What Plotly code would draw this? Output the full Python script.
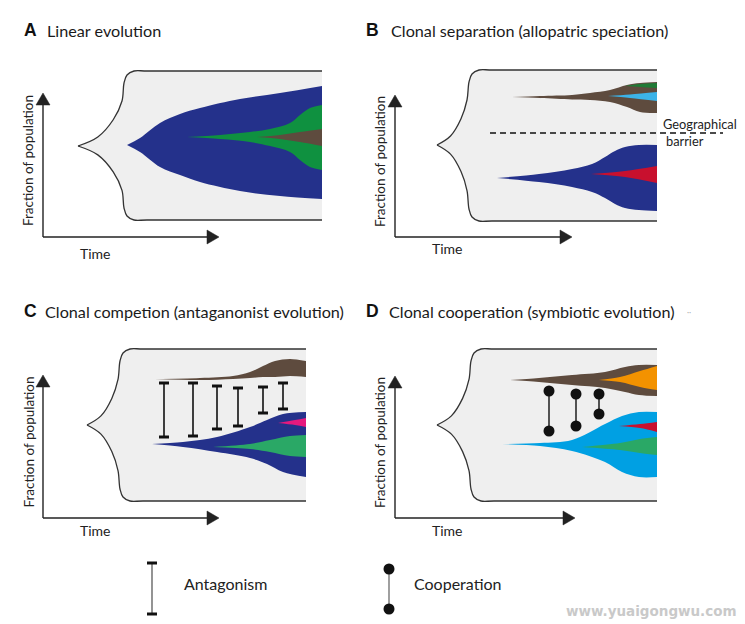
import plotly.graph_objects as go

W, H = 745, 624
PAGE_MARGIN = 8  # default body margin of the written html page
FONT = "Lato"
BOLD = "Liberation Sans"

# ---------------- colours ----------------
GREY = "#efefef"
NAVY = "#24318b"
GREEN_DK = "#0f9140"
GREEN = "#2aa866"
BROWN = "#5e4b3e"
LBLUE_B = "#3cb3e8"
LBLUE = "#00a0e3"
RED = "#c8102e"
PINK = "#e5197e"
ORANGE = "#f39200"
INK = "#222222"

# ---------------- panel frames: (tip_x, tip_y, vertical_x, top, bottom, right) ----------------
ENV_A = (78, 146, 122, 71, 220, 322)
ENV_B = (437, 145, 467, 70, 221, 657)
ENV_C = (87, 425, 118, 349, 501, 306)
ENV_D = (437, 425, 469, 349, 501, 657)

# axes: (axis_x, axis_y, y_arrow_tip, x_arrow_tip, time_y)
AX_A = (43, 237, 93, 219, 253)
AX_B = (395, 237, 95, 572, 248)
AX_C = (43, 518, 375, 219, 530)
AX_D = (395, 518, 376, 575, 530)

# ---------------- clones (x knots, upper edge, lower edge) ----------------
A_BLUE_X = [127, 140, 160, 180, 200, 240, 280, 322]
A_BLUE_UP = [145, 138, 123, 114, 108, 99, 93, 86]
A_BLUE_LO = [145, 152, 167, 175, 182, 191, 196, 199]
A_GREEN_X = [187, 220, 250, 270, 290, 300, 310, 322]
A_GREEN_UP = [137, 135, 132, 129, 123, 115, 108, 105]
A_GREEN_LO = [137, 139, 142, 146, 152, 160, 167, 170]
A_BROWN_X = [257, 280, 300, 322]
A_BROWN_UP = [137, 135, 132, 129]
A_BROWN_LO = [137, 139, 142, 146]

B_BROWN_X = [512, 540, 572, 590, 610, 627, 640, 657]
B_BROWN_UP = [97, 96, 95, 93, 90, 85, 83, 82]
B_BROWN_LO = [97, 98, 99.5, 100, 102, 107, 112, 113]
B_GREEN_X = [625, 640, 657]
B_GREEN_UP = [86, 84, 83]
B_GREEN_LO = [86, 87, 88]
B_LBLUE_X = [608, 630, 657]
B_LBLUE_UP = [96, 94.5, 92]
B_LBLUE_LO = [96, 98, 101]
B_BLUE_X = [497, 539, 572, 592, 605, 615, 625, 639, 657]
B_BLUE_UP = [178, 174, 169, 164, 157, 151, 147, 145, 145]
B_BLUE_LO = [178, 182, 187, 192, 198, 204, 208, 210, 211]
B_RED_X = [591, 625, 657]
B_RED_UP = [174, 171, 166]
B_RED_LO = [174, 177, 183]

C_BROWN_X = [155, 200, 233, 250, 263, 275, 290, 306]
C_BROWN_UP = [379, 378, 376, 372, 366, 361, 359, 361]
C_BROWN_LO = [379, 380, 379, 378, 377, 377, 376, 377]
C_BLUE_X = [152, 183, 217, 250, 267, 283, 306]
C_BLUE_UP = [444, 442, 437, 427, 420, 414, 412]
C_BLUE_LO = [444, 447, 452, 458, 464, 472, 477]
C_GREEN_X = [213, 250, 270, 290, 306]
C_GREEN_UP = [447, 444, 440, 436, 435]
C_GREEN_LO = [447, 449, 452, 456, 457]
C_PINK_X = [278, 295, 306]
C_PINK_UP = [423, 420, 418]
C_PINK_LO = [423, 425, 427]

D_BROWN_X = [510, 539, 572, 605, 625, 639, 657]
D_BROWN_UP = [380, 378, 375, 372, 367, 365, 365]
D_BROWN_LO = [380, 382, 385, 388, 392, 395, 396]
D_ORANGE_X = [599, 620, 640, 657]
D_ORANGE_UP = [380, 377, 371, 366]
D_ORANGE_LO = [380, 382, 387, 390]
D_LBLUE_X = [502, 540, 572, 605, 622, 639, 657]
D_LBLUE_UP = [444, 443, 440, 424, 416, 412, 412]
D_LBLUE_LO = [444, 446, 451, 462, 472, 477, 477]
D_RED_X = [619, 640, 657]
D_RED_UP = [426, 424, 422]
D_RED_LO = [426, 428, 432]
D_GREEN_X = [582, 620, 640, 657]
D_GREEN_UP = [447, 443, 439, 437]
D_GREEN_LO = [447, 450, 453, 455]

# ---------------- interactions ----------------
ANTAG_X = [164, 193, 217, 238, 263, 283]
ANTAG_TOP = [383, 383, 386, 388, 387, 383]
ANTAG_BOT = [437, 436, 429, 426, 413, 409]
COOP_X = [549, 576, 599]
COOP_TOP = [391, 394, 394]
COOP_BOT = [431, 426, 414]

# legend keys
LEG_ANTAG = (152, 563, 614)
LEG_COOP = (389, 569, 609)

fig = go.Figure()


def add(tr):
    tr.update(hoverinfo="skip", showlegend=False)
    fig.add_trace(tr)


def band(xs, up, lo, color):
    add(go.Scatter(x=xs, y=lo, mode="lines",
                   line=dict(width=0, shape="spline", smoothing=1.0, color=color)))
    add(go.Scatter(x=xs, y=up, mode="lines", fill="tonexty", fillcolor=color,
                   line=dict(width=0, shape="spline", smoothing=1.0, color=color)))


def brace(tx, ty, vx, edge, right):
    w = vx - tx
    dy = edge - ty
    s = 1 if dy > 0 else -1
    xs = [tx, tx + 0.45 * w, tx + 0.8 * w, vx, vx + 2, vx + 5, vx + 12, vx + 25, right]
    ys = [ty, ty + 0.12 * dy, ty + 0.35 * dy, ty + 0.6 * dy, edge - s * 12,
          edge - s * 4, edge, edge, edge]
    return xs, ys


def envelope(env):
    tx, ty, vx, top, bot, right = env
    xl, yl = brace(tx, ty, vx, bot, right)
    xu, yu = brace(tx, ty, vx, top, right)
    add(go.Scatter(x=xl, y=yl, mode="lines",
                   line=dict(width=1.3, color="#333333", shape="spline", smoothing=1.0)))
    add(go.Scatter(x=xu, y=yu, mode="lines", fill="tonexty", fillcolor=GREY,
                   line=dict(width=1.3, color="#333333", shape="spline", smoothing=1.0)))


def axes(ax):
    x0, y0, ytip, xtip, ty = ax
    L, hw = 12, 7
    add(go.Scatter(x=[x0, x0, None, x0, xtip - L], y=[ytip + L, y0, None, y0, y0],
                   mode="lines", line=dict(width=1.4, color=INK)))
    add(go.Scatter(x=[x0, x0 - hw, x0 + hw, x0], y=[ytip, ytip + L, ytip + L, ytip],
                   mode="lines", fill="toself", fillcolor=INK, line=dict(width=0.5, color=INK)))
    add(go.Scatter(x=[xtip, xtip - L, xtip - L, xtip], y=[y0, y0 - hw, y0 + hw, y0],
                   mode="lines", fill="toself", fillcolor=INK, line=dict(width=0.5, color=INK)))
    fig.add_annotation(x=x0 - 15, y=(ytip + y0) / 2 - 4, text="Fraction of population",
                       textangle=-90, showarrow=False, xanchor="center", yanchor="middle",
                       font=dict(family=FONT, size=13.5, color=INK))
    fig.add_annotation(x=x0 + 52, y=ty, text="Time", showarrow=False,
                       xanchor="center", yanchor="middle",
                       font=dict(family=FONT, size=14, color=INK))


for env, ax in [(ENV_A, AX_A), (ENV_B, AX_B), (ENV_C, AX_C), (ENV_D, AX_D)]:
    envelope(env)
    axes(ax)

# clones
band(A_BLUE_X, A_BLUE_UP, A_BLUE_LO, NAVY)
band(A_GREEN_X, A_GREEN_UP, A_GREEN_LO, GREEN_DK)
band(A_BROWN_X, A_BROWN_UP, A_BROWN_LO, BROWN)

band(B_BROWN_X, B_BROWN_UP, B_BROWN_LO, BROWN)
band(B_GREEN_X, B_GREEN_UP, B_GREEN_LO, "#1f7a35")
band(B_LBLUE_X, B_LBLUE_UP, B_LBLUE_LO, LBLUE_B)
band(B_BLUE_X, B_BLUE_UP, B_BLUE_LO, NAVY)
band(B_RED_X, B_RED_UP, B_RED_LO, RED)

band(C_BROWN_X, C_BROWN_UP, C_BROWN_LO, BROWN)
band(C_BLUE_X, C_BLUE_UP, C_BLUE_LO, NAVY)
band(C_GREEN_X, C_GREEN_UP, C_GREEN_LO, GREEN)
band(C_PINK_X, C_PINK_UP, C_PINK_LO, PINK)

band(D_BROWN_X, D_BROWN_UP, D_BROWN_LO, BROWN)
band(D_ORANGE_X, D_ORANGE_UP, D_ORANGE_LO, ORANGE)
band(D_LBLUE_X, D_LBLUE_UP, D_LBLUE_LO, LBLUE)
band(D_RED_X, D_RED_UP, D_RED_LO, RED)
band(D_GREEN_X, D_GREEN_UP, D_GREEN_LO, GREEN)

# geographical barrier
add(go.Scatter(x=[490, 723], y=[133, 133], mode="lines",
               line=dict(width=1.5, color="#111111", dash="6px,4px")))
fig.add_annotation(x=661, y=124, text="Geographical", showarrow=False, xanchor="left",
                   yanchor="middle", font=dict(family=FONT, size=12.8, color=INK))
fig.add_annotation(x=664, y=141, text="barrier", showarrow=False, xanchor="left",
                   yanchor="middle", font=dict(family=FONT, size=12.8, color=INK))


# antagonism bars
def ibars(xs, tops, bots, stem_color, stem_w):
    vx, vy, cx, cy = [], [], [], []
    for x, t, b in zip(xs, tops, bots):
        vx += [x, x, None]
        vy += [t, b, None]
        cx += [x - 5, x + 5, None, x - 5, x + 5, None]
        cy += [t, t, None, b, b, None]
    add(go.Scatter(x=vx, y=vy, mode="lines", line=dict(width=stem_w, color=stem_color)))
    add(go.Scatter(x=cx, y=cy, mode="lines", line=dict(width=3, color="#111111")))


ibars(ANTAG_X, ANTAG_TOP, ANTAG_BOT, "#111111", 1.6)
ibars([LEG_ANTAG[0]], [LEG_ANTAG[1]], [LEG_ANTAG[2]], "#666666", 1.4)


# cooperation dumbbells
def dumbbells(xs, tops, bots, stem_color):
    vx, vy, px, py = [], [], [], []
    for x, t, b in zip(xs, tops, bots):
        vx += [x, x, None]
        vy += [t, b, None]
        px += [x, x]
        py += [t, b]
    add(go.Scatter(x=vx, y=vy, mode="lines", line=dict(width=1.4, color=stem_color)))
    add(go.Scatter(x=px, y=py, mode="markers",
                   marker=dict(size=11, color="#111111", line=dict(width=0))))


dumbbells(COOP_X, COOP_TOP, COOP_BOT, "#111111")
dumbbells([LEG_COOP[0]], [LEG_COOP[1]], [LEG_COOP[2]], "#777777")

# titles
TITLES = [("A", 22, 30, 45, "Linear evolution"),
          ("B", 364, 30, 389, "Clonal separation (allopatric speciation)"),
          ("C", 22, 311, 43, "Clonal competion (antaganonist evolution)"),
          ("D", 364, 311, 387, "Clonal cooperation (symbiotic evolution)")]
for letter, lx, ly, tx, text in TITLES:
    fig.add_annotation(x=lx, y=ly, text="<b>%s</b>" % letter, showarrow=False, xanchor="left",
                       yanchor="middle", font=dict(family=BOLD, size=17.5, color="#111111"))
    fig.add_annotation(x=tx, y=ly, text=text, showarrow=False, xanchor="left",
                       yanchor="middle", font=dict(family=FONT, size=16.2, color="#1a1a1a"))
fig.add_annotation(x=685, y=312, text="··", showarrow=False, xanchor="left", yanchor="middle",
                   font=dict(family=FONT, size=8, color="#aaaaaa"))

# legend labels
fig.add_annotation(x=182, y=583, text="Antagonism", showarrow=False, xanchor="left",
                   yanchor="middle", font=dict(family=FONT, size=16, color=INK))
fig.add_annotation(x=412, y=583, text="Cooperation", showarrow=False, xanchor="left",
                   yanchor="middle", font=dict(family=FONT, size=16, color=INK))

# watermark
fig.add_annotation(x=739, y=611, text="<b>www.yuaigongwu.com</b>", showarrow=False,
                   xanchor="right", yanchor="middle",
                   font=dict(family="DejaVu Sans", size=13.5, color="#c9c9c9"))

# the page adds its own body margin, so the figure is made that much smaller and its
# coordinate window starts at the margin: coordinates are then page pixels.
fig.update_layout(
    width=W - PAGE_MARGIN, height=H - PAGE_MARGIN, autosize=False,
    margin=dict(l=0, r=0, t=0, b=0, pad=0),
    paper_bgcolor="white", plot_bgcolor="white",
    showlegend=False, hovermode=False,
    xaxis=dict(range=[PAGE_MARGIN, W], visible=False, fixedrange=True),
    yaxis=dict(range=[H, PAGE_MARGIN], visible=False, fixedrange=True),
)

fig.write_html("out.html")
